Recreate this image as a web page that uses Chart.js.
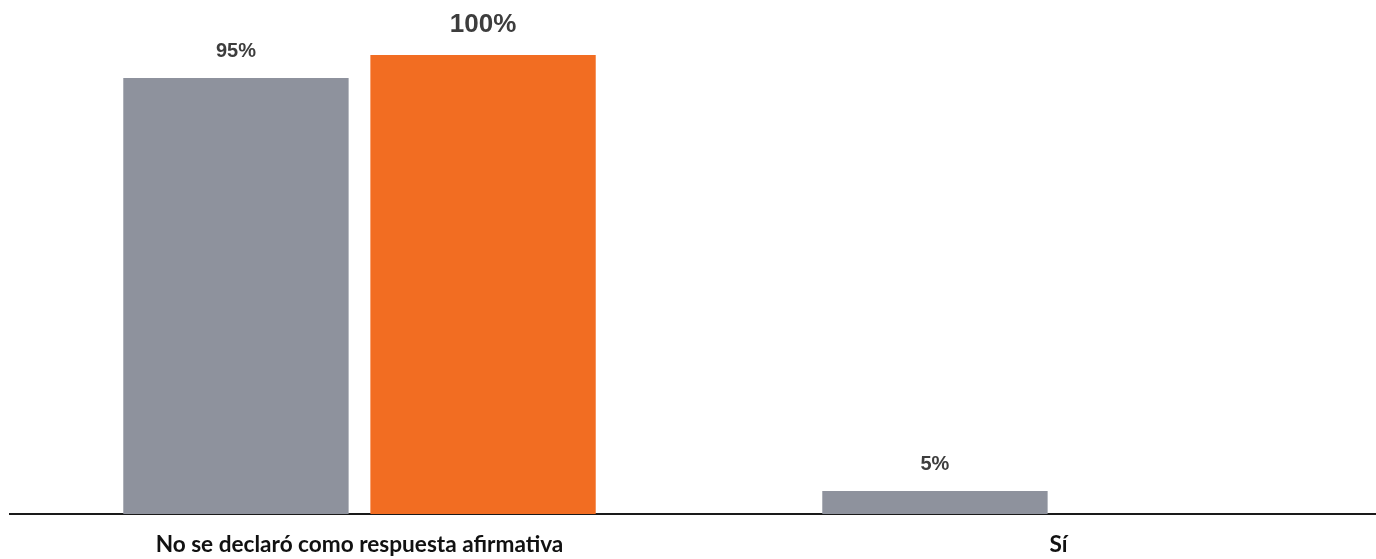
<!DOCTYPE html>
<html>
<head>
<meta charset="utf-8">
<script src="https://cdn.jsdelivr.net/npm/chart.js@4.4.1/dist/chart.umd.min.js"></script>
<style>
  html, body { margin: 0; padding: 0; background: #ffffff; overflow: hidden; }
  #wrap { position: relative; width: 1420px; height: 559px; }
</style>
</head>
<body>
<div id="wrap"><canvas id="c"></canvas></div>
<script>
const categories = ["No se declaró como respuesta afirmativa", "Sí"];
const seriesGray = [95, 5];
const seriesOrange = [100, null];
const seriesNames = ["Serie 1", "Serie 2"];

const valueLabels = {
  id: 'valueLabels',
  afterDatasetsDraw(chart) {
    const ctx = chart.ctx;
    const styles = [
      { font: 'bold 20px "Liberation Sans", Arial, sans-serif', gap: 21 },
      { font: 'bold 26px "Liberation Sans", Arial, sans-serif', gap: 23 }
    ];
    chart.data.datasets.forEach((ds, di) => {
      const meta = chart.getDatasetMeta(di);
      meta.data.forEach((el, i) => {
        const v = ds.data[i];
        if (v === null || v === undefined) return;
        ctx.save();
        ctx.font = styles[di].font;
        ctx.fillStyle = '#3d3d3d';
        ctx.textAlign = 'center';
        ctx.textBaseline = 'alphabetic';
        ctx.fillText(v + '%', el.x, el.y - styles[di].gap);
        ctx.restore();
      });
    });
  }
};

new Chart(document.getElementById('c'), {
  type: 'bar',
  data: {
    labels: categories,
    datasets: [
      { label: seriesNames[0], data: seriesGray, backgroundColor: '#8e929d', borderWidth: 0 },
      { label: seriesNames[1], data: seriesOrange, backgroundColor: '#f26d22', borderWidth: 0 }
    ]
  },
  options: {
    responsive: true,
    maintainAspectRatio: false,
    animation: false,
    datasets: { bar: { categoryPercentage: 0.707, barPercentage: 0.912 } },
    layout: { padding: { top: 55, left: 10, right: 12, bottom: 0 } },
    plugins: { legend: { display: false }, tooltip: { enabled: false } },
    scales: {
      y: { display: false, min: 0, max: 100 },
      x: {
        grid: { display: false, drawTicks: false },
        border: { display: true, color: '#1a1a1a', width: 2 },
        afterFit(scale) { scale.height = 45; },
        ticks: {
          color: '#111111',
          padding: 17,
          font: { family: 'Lato', weight: 'bold', size: 22.6 }
        }
      }
    }
  },
  plugins: [valueLabels]
});
</script>
</body>
</html>
